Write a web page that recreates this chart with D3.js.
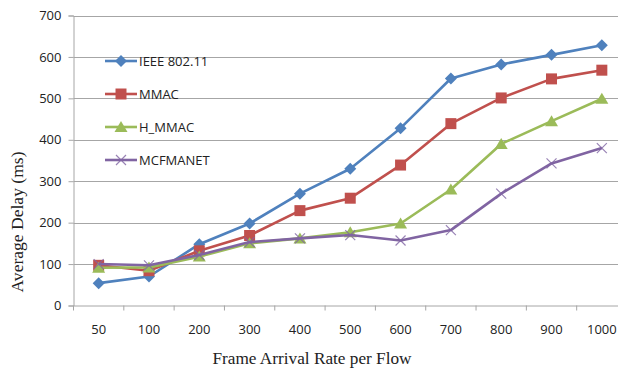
<!DOCTYPE html>
<html>
<head>
<meta charset="utf-8">
<script src="https://cdn.jsdelivr.net/npm/d3@7"></script>
<style>
  html, body { margin: 0; padding: 0; background: #fff; }
  svg { display: block; }
</style>
</head>
<body>
<svg id="chart" width="618" height="370"></svg>
<script>
// Frame arrival rates (x categories)
const categories = ["50", "100", "200", "300", "400", "500", "600", "700", "800", "900", "1000"];
const yTicks = [0, 100, 200, 300, 400, 500, 600, 700];

// Average delay (ms) per protocol
const ieee80211 = [54, 70, 148, 198, 270, 330, 428, 548, 582, 605, 628];
const mmac      = [97, 84, 132, 169, 229, 259, 339, 439, 501, 547, 568];
const hMmac     = [91, 92, 118, 150, 162, 177, 198, 280, 390, 445, 499];
const mcfmanet  = [100, 97, 122, 153, 162, 170, 157, 182, 270, 343, 380];

const seriesNames = ["IEEE 802.11", "MMAC", "H_MMAC", "MCFMANET"];
const seriesValues = [ieee80211, mmac, hMmac, mcfmanet];
const seriesColors = ["#4F81BD", "#C0504D", "#9BBB59", "#8064A2"];
const seriesMarkers = ["diamond", "square", "triangle", "cross"];

const svg = d3.select("#chart");
const plot = { left: 73.5, right: 627, top: 15.5, bottom: 305.5 };

const x = d3.scaleBand().domain(categories).range([plot.left, plot.right]);
const y = d3.scaleLinear().domain([0, 700]).range([plot.bottom, plot.top]);

// Horizontal gridlines
svg.append("g")
  .selectAll("line")
  .data(yTicks.slice(1))
  .join("line")
  .attr("x1", plot.left).attr("x2", 618)
  .attr("y1", d => Math.round(y(d)) + 0.5).attr("y2", d => Math.round(y(d)) + 0.5)
  .attr("stroke", "#a6a6a6").attr("stroke-width", 1);

// Y axis
const yAxis = svg.append("g")
  .attr("transform", `translate(${plot.left},0)`)
  .call(d3.axisLeft(y).tickValues(yTicks).tickSize(5).tickPadding(6));
yAxis.select(".domain").attr("stroke", "#a6a6a6");
yAxis.selectAll(".tick line").attr("stroke", "#a6a6a6");
yAxis.selectAll(".tick text")
  .attr("font-family", "'Open Sans', sans-serif").attr("font-size", 13).attr("fill", "#222")
  .attr("dx", -1);

// X axis with ticks at band boundaries
const xAxis = svg.append("g")
  .attr("transform", `translate(0,${plot.bottom})`)
  .call(d3.axisBottom(x).tickSize(0).tickPadding(19));
xAxis.select(".domain").attr("stroke", "#a6a6a6");
xAxis.selectAll(".tick text")
  .attr("font-family", "'Open Sans', sans-serif").attr("font-size", 13).attr("fill", "#222");
xAxis.selectAll(".bound")
  .data(categories)
  .join("line")
  .attr("class", "bound")
  .attr("x1", d => x(d)).attr("x2", d => x(d))
  .attr("y1", 0).attr("y2", 5)
  .attr("stroke", "#a6a6a6");

// Marker path generator
function markerPath(kind) {
  switch (kind) {
    case "diamond": return "M0,-6L6,0L0,6L-6,0Z";
    case "square": return "M-5.5,-5.5H5.5V5.5H-5.5Z";
    case "triangle": return "M0,-6L6.5,5L-6.5,5Z";
    case "cross": return "M-5,-5L5,5M5,-5L-5,5";
  }
}

function drawMarker(g, kind, color) {
  const p = g.append("path").attr("d", markerPath(kind));
  if (kind === "cross") {
    p.attr("fill", "none").attr("stroke", color).attr("stroke-width", 1.2).attr("opacity", 0.8);
  } else {
    p.attr("fill", color);
  }
}

const line = d3.line()
  .x((d, i) => x(categories[i]) + x.bandwidth() / 2)
  .y(d => y(d));

seriesValues.forEach((vals, s) => {
  const g = svg.append("g");
  g.append("path")
    .datum(vals)
    .attr("d", line)
    .attr("fill", "none")
    .attr("stroke", seriesColors[s])
    .attr("stroke-width", 2.6)
    .attr("stroke-linejoin", "round");
  vals.forEach((v, i) => {
    const m = g.append("g")
      .attr("transform", `translate(${x(categories[i]) + x.bandwidth() / 2},${y(v)})`);
    drawMarker(m, seriesMarkers[s], seriesColors[s]);
  });
});

// Legend
const legend = svg.append("g");
seriesNames.forEach((name, s) => {
  const cy = 61 + s * 33;
  legend.append("line")
    .attr("x1", 105).attr("x2", 137).attr("y1", cy).attr("y2", cy)
    .attr("stroke", seriesColors[s]).attr("stroke-width", 2.6);
  const m = legend.append("g").attr("transform", `translate(121,${cy})`);
  drawMarker(m, seriesMarkers[s], seriesColors[s]);
  legend.append("text")
    .attr("x", 139).attr("y", cy + 4.5)
    .attr("font-family", "'Open Sans', sans-serif").attr("font-size", 13).attr("fill", "#222")
    .text(name);
});

// Axis titles
svg.append("text")
  .attr("x", 312).attr("y", 364)
  .attr("text-anchor", "middle")
  .attr("font-family", "'Liberation Serif', serif").attr("font-size", 16.5).attr("fill", "#222")
  .attr("textLength", 199).attr("lengthAdjust", "spacingAndGlyphs")
  .text("Frame Arrival Rate per Flow");

svg.append("text")
  .attr("transform", "translate(23,222) rotate(-90)")
  .attr("text-anchor", "middle")
  .attr("font-family", "'Liberation Serif', serif").attr("font-size", 16.5).attr("fill", "#222")
  .attr("textLength", 141).attr("lengthAdjust", "spacingAndGlyphs")
  .text("Average Delay (ms)");
</script>
</body>
</html>
